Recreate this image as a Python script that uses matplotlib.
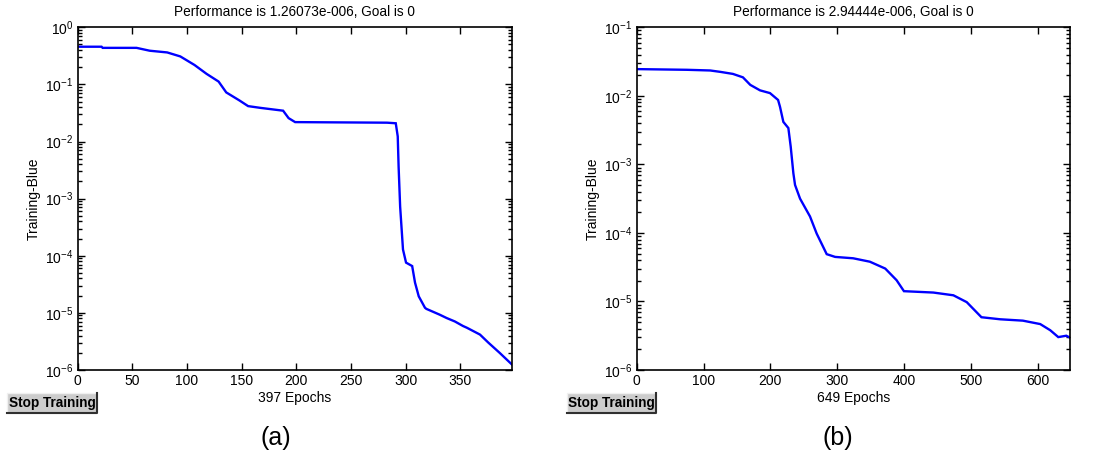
import matplotlib
matplotlib.use("Agg")
import matplotlib.pyplot as plt
import numpy as np
from matplotlib.patches import Rectangle
from matplotlib.lines import Line2D
from matplotlib.ticker import LogLocator

plt.rcParams['font.family'] = ['Liberation Sans', 'DejaVu Sans']
plt.rcParams['mathtext.fontset'] = 'custom'
plt.rcParams['mathtext.rm'] = 'Liberation Sans'
plt.rcParams['mathtext.it'] = 'Liberation Sans'
plt.rcParams['axes.unicode_minus'] = False

# ---- data ----
epochs_a = [0, 22, 23, 54, 66, 82, 94, 107, 118, 129, 136, 148, 156, 167, 188, 193, 199,
            283, 291, 292.8, 293.6, 295, 296.7, 297.6, 300.4, 306, 308.6, 312, 317.7,
            319, 331, 337.5, 345, 352.5, 356, 368, 375.6, 386, 397]
perf_a_log = [-0.34, -0.34, -0.36, -0.36, -0.41, -0.44, -0.51, -0.66, -0.815, -0.95, -1.14,
              -1.28, -1.38, -1.41, -1.46, -1.59, -1.66,
              -1.67, -1.68, -1.91, -2.44, -3.14, -3.63, -3.89, -4.12, -4.18, -4.47, -4.71, -4.91,
              -4.93, -5.03, -5.09, -5.15, -5.23, -5.26, -5.38, -5.52, -5.70, -5.90]

epochs_b = [0, 75, 110, 125, 144, 159, 170, 184.6, 199.5, 211.6, 214.5, 219.5, 227, 230.5,
            234.5, 237, 244.5, 259.4, 269.4, 284.4, 297, 324, 349, 372, 389, 400, 444, 474,
            494, 516, 544, 578, 604, 619, 631, 643, 649]
perf_b_log = [-1.61, -1.62, -1.63, -1.65, -1.68, -1.73, -1.84, -1.92, -1.96, -2.06, -2.16,
              -2.38, -2.47, -2.74, -3.13, -3.30, -3.50, -3.76, -4.01, -4.31, -4.35, -4.37,
              -4.42, -4.52, -4.69, -4.85, -4.87, -4.91, -5.01, -5.23, -5.26, -5.28, -5.33,
              -5.42, -5.52, -5.50, -5.53]

titles = ["Performance is 1.26073e-006, Goal is 0", "Performance is 2.94444e-006, Goal is 0"]
xlabels = ["397 Epochs", "649 Epochs"]
ylabel = "Training-Blue"
panel_labels = ["(a)", "(b)"]
xlims = [397, 649]
ylims = [(1e-6, 1e0), (1e-6, 1e-1)]
xticks = [[0, 50, 100, 150, 200, 250, 300, 350], [0, 100, 200, 300, 400, 500, 600]]
button_text = "Stop Training"

W, H = 1110, 461
fig = plt.figure(figsize=(W / 100, H / 100), dpi=100)
fig.patch.set_facecolor('white')

axes_px = [(77.5, 27.3, 511.7, 370), (636.7, 27.3, 1070.3, 370)]
buttons_px = [(7, 393, 97, 412.5), (567, 393, 656, 412.5)]
label_x_px = [276, 838]

series = [(epochs_a, perf_a_log), (epochs_b, perf_b_log)]

for i in range(2):
    x0, y0, x1, y1 = axes_px[i]
    ax = fig.add_axes([x0 / W, 1 - y1 / H, (x1 - x0) / W, (y1 - y0) / H])
    ex, ly = series[i]
    ax.semilogy(ex, 10 ** np.array(ly), color='#0000ff', lw=1.7, solid_joinstyle='miter')
    ax.set_xlim(0, xlims[i])
    ax.set_ylim(*ylims[i])
    ax.set_xticks(xticks[i])
    ax.yaxis.set_major_locator(LogLocator(base=10, numticks=20))
    ax.yaxis.set_minor_locator(LogLocator(base=10, subs=np.arange(2, 10), numticks=100))
    ax.tick_params(which='both', direction='in', top=True, right=True, labelsize=10,
                   colors='black', width=1)
    ax.tick_params(which='major', length=5, pad=3)
    ax.tick_params(which='minor', length=3)
    for s in ax.spines.values():
        s.set_linewidth(1.2)
    ax.set_title(titles[i], fontsize=9.8, pad=8)
    ax.set_xlabel(xlabels[i], fontsize=10, labelpad=2)
    ax.set_ylabel(ylabel, fontsize=10, labelpad=3)

    bx0, by0, bx1, by1 = buttons_px[i]
    fig.patches.append(Rectangle((bx0 / W, 1 - by1 / H), (bx1 - bx0) / W, (by1 - by0) / H,
                                 transform=fig.transFigure, facecolor='#cccccc',
                                 edgecolor='#f0f0f0', lw=1.0, zorder=5))
    # 3D shadow on the right and bottom edges
    fig.lines.append(Line2D([bx0 / W, bx1 / W, bx1 / W],
                            [1 - by1 / H, 1 - by1 / H, 1 - by0 / H],
                            transform=fig.transFigure, color='#303030', lw=1.5, zorder=6))
    fig.text((bx0 + bx1) / 2 / W, 1 - (by0 + by1) / 2 / H, button_text, ha='center',
             va='center', fontsize=9.8, fontweight='bold', zorder=7)
    fig.text(label_x_px[i] / W, 1 - 438 / H, panel_labels[i], ha='center', va='center',
             fontsize=18)

fig.savefig("out.png", dpi=100)
